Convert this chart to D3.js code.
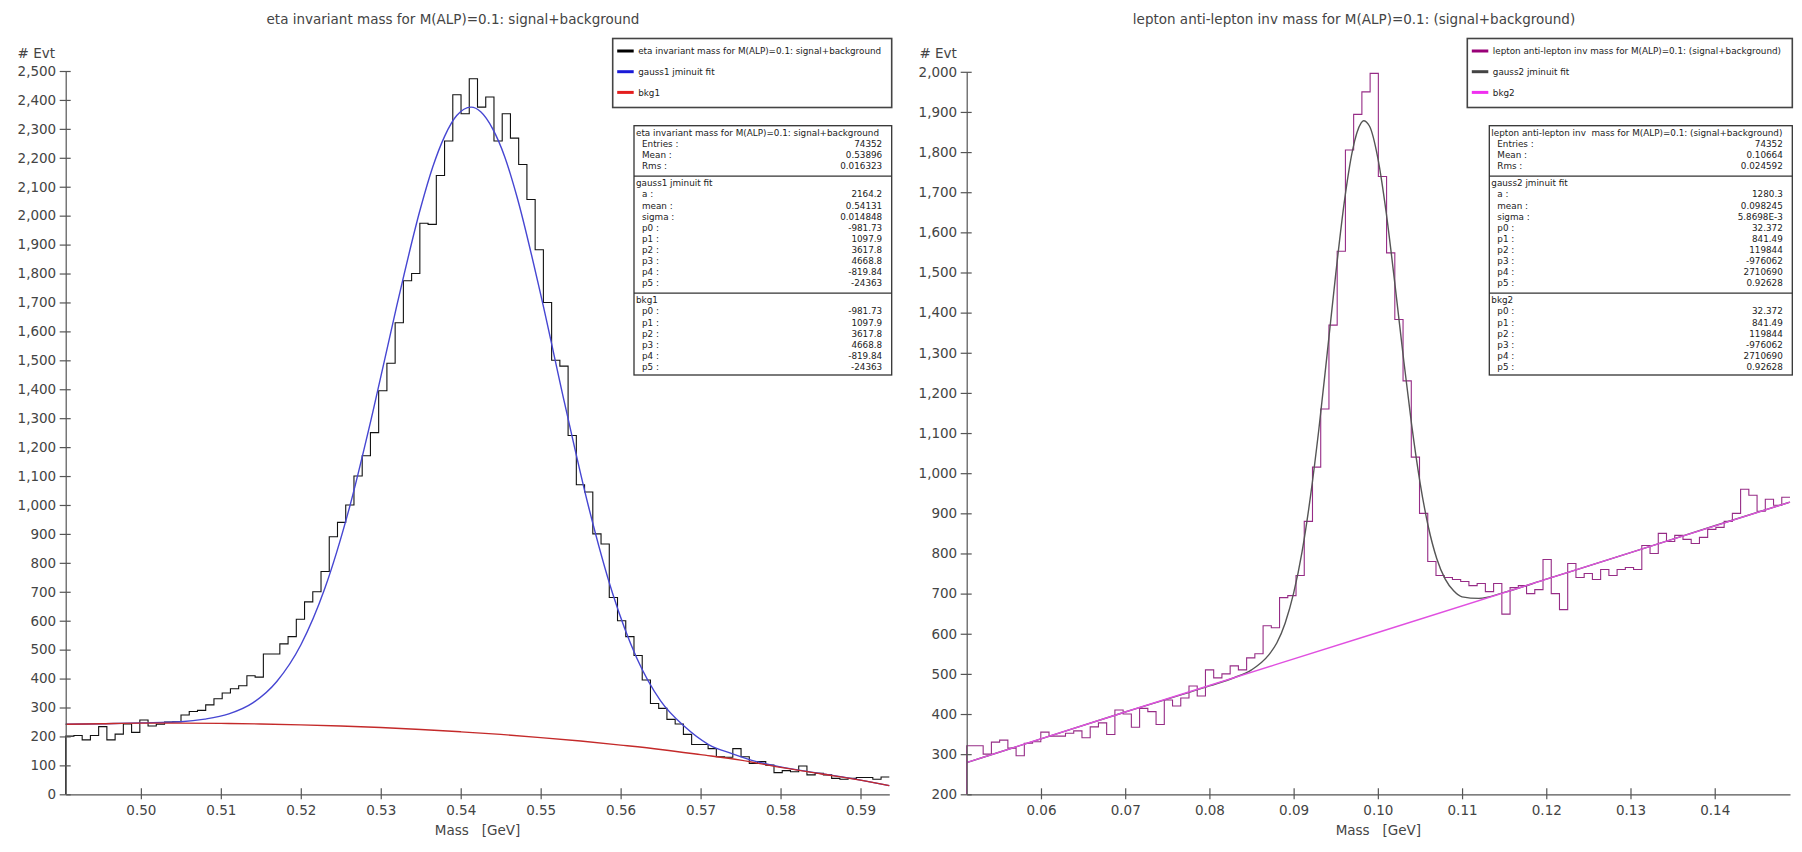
<!DOCTYPE html>
<html>
<head>
<meta charset="utf-8">
<script src="https://cdn.jsdelivr.net/npm/d3@7"></script>
<style>
  body { margin: 0; background: #fff; }
  svg text { font-family: "DejaVu Sans", sans-serif; }
</style>
</head>
<body>
<svg id="chart" width="1802" height="852"></svg>
<script>
// ---- left panel: eta invariant mass (100 bins) ----
var etaRange = [0.4906, 0.5936];
var etaCounts = [201,203,188,203,234,188,208,243,214,257,236,242,250,251,274,286,290,309,
  330,350,365,375,410,405,485,485,520,545,605,665,700,770,890,940,1000,1100,1170,1250,1395,1490,1630,1775,1800,
  1974,1970,2139,2258,2418,2352,2473,2375,2410,2258,2352,2268,2177,2056,1882,
  1700,1500,1480,1240,1070,1045,900,865,680,600,545,480,395,314,
  297,259,243,207,172,172,158,130,128,158,130,107,113,101,75,82,78,98,67,73,67,55,52,55,58,58,52,60];
var etaFitX = [0.4906,0.4955,0.500,0.505,0.508,0.511,0.514,0.517,0.520,0.523,0.526,0.529,0.532,0.535,0.5365,0.538,0.5395,0.5413,0.5425,0.544,0.5455,0.547,0.550,0.553,0.556,0.559,0.562,0.565,0.568,0.571,0.574,0.577,0.580,0.585,0.590,0.5936];
var etaFitY = [242,244,247,251,260,278,316,390,516,711,982,1320,1688,2028,2168,2275,2346,2375,2359,2300,2204,2069,1728,1351,993,694,472,323,234,172,140,113,95,72,49,30];
var etaBkgX = [0.4906,0.495,0.500,0.505,0.510,0.515,0.520,0.525,0.530,0.535,0.540,0.545,0.550,0.555,0.560,0.565,0.570,0.575,0.580,0.585,0.590,0.5936];
var etaBkgY = [242,244,246,246,245,243,240,236,231,224,216,207,196,184,170,155,137,118,93,71,49,30];
var etaXTicks = [0.50,0.51,0.52,0.53,0.54,0.55,0.56,0.57,0.58,0.59];
var etaYTicks = [0,100,200,300,400,500,600,700,800,900,1000,1100,1200,1300,1400,1500,1600,1700,1800,1900,2000,2100,2200,2300,2400,2500];
var etaLegend = ["eta invariant mass for M(ALP)=0.1: signal+background", "gauss1 jminuit fit", "bkg1"];
var etaStats = [
  ["eta invariant mass for M(ALP)=0.1: signal+background", [["Entries :","74352"],["Mean :","0.53896"],["Rms :","0.016323"]]],
  ["gauss1 jminuit fit", [["a :","2164.2"],["mean :","0.54131"],["sigma :","0.014848"],["p0 :","-981.73"],["p1 :","1097.9"],["p2 :","3617.8"],["p3 :","4668.8"],["p4 :","-819.84"],["p5 :","-24363"]]],
  ["bkg1", [["p0 :","-981.73"],["p1 :","1097.9"],["p2 :","3617.8"],["p3 :","4668.8"],["p4 :","-819.84"],["p5 :","-24363"]]]
];

// ---- right panel: lepton anti-lepton inv mass (100 bins) ----
var leptonRange = [0.05118, 0.14894];
var leptonCounts = [321,321,300,330,335,315,296,327,331,355,345,345,352,358,341,368,378,349,410,400,367,414,406,374,435,420,
  440,470,445,510,490,500,520,510,540,550,620,615,690,695,745,880,1015,1160,
  1369,1553,1805,1894,1950,1996,1739,1549,1383,
  1230,1040,900,780,745,740,735,730,720,725,705,725,649,
  715,720,700,710,785,700,660,775,740,750,735,760,745,760,765,760,820,800,850,830,845,835,825,840,860,865,880,900,960,945,905,935,920,940];
var leptonFitX = [0.05118,0.060,0.070,0.080,0.083,0.085,0.087,0.088,0.089,0.090,0.091,0.092,0.093,0.094,0.095,0.096,0.097,0.098,0.0983,0.099,0.100,0.101,0.102,0.103,0.104,0.105,0.106,0.107,0.108,0.109,0.110,0.112,0.115,0.120,0.130,0.140,0.14894];
var leptonFitY = [279,338,405,470,491,510,546,577,627,701,804,942,1110,1301,1496,1673,1805,1872,1878,1865,1785,1648,1476,1294,1123,978,866,787,736,707,692,688,703,736,802,869,928];
var leptonBkgX = [0.05118,0.070,0.100,0.130,0.14894];
var leptonBkgY = [279,405,603,802,928];
var leptonXTicks = [0.06,0.07,0.08,0.09,0.10,0.11,0.12,0.13,0.14];
var leptonYTicks = [200,300,400,500,600,700,800,900,1000,1100,1200,1300,1400,1500,1600,1700,1800,1900,2000];
var leptonLegend = ["lepton anti-lepton inv  mass for M(ALP)=0.1: (signal+background)", "gauss2 jminuit fit", "bkg2"];
var leptonStats = [
  ["lepton anti-lepton inv  mass for M(ALP)=0.1: (signal+background)", [["Entries :","74352"],["Mean :","0.10664"],["Rms :","0.024592"]]],
  ["gauss2 jminuit fit", [["a :","1280.3"],["mean :","0.098245"],["sigma :","5.8698E-3"],["p0 :","32.372"],["p1 :","841.49"],["p2 :","119844"],["p3 :","-976062"],["p4 :","2710690"],["p5 :","0.92628"]]],
  ["bkg2", [["p0 :","32.372"],["p1 :","841.49"],["p2 :","119844"],["p3 :","-976062"],["p4 :","2710690"],["p5 :","0.92628"]]]
];

var svg = d3.select("#chart");
var BASE = 794.3;

function drawPanel(p) {
  var x = d3.scaleLinear().domain(p.range).range([p.left, p.right]);
  var y = d3.scaleLinear().domain([p.yTicks[0], p.yTicks[p.yTicks.length - 1]]).range([BASE, p.top]);
  var g = svg.append("g");

  g.append("text").attr("x", p.titleX).attr("y", 24).attr("text-anchor", "middle")
    .attr("font-size", 13.5).attr("fill", "#444").text(p.title);
  g.append("text").attr("x", p.evtX).attr("y", 58).attr("font-size", 13.5).attr("fill", "#444").text("# Evt");
  g.append("text").attr("x", (p.left + p.right) / 2).attr("y", 834.5).attr("text-anchor", "middle")
    .attr("font-size", 13.5).attr("fill", "#444").style("white-space", "pre").text("Mass   [GeV]");

  // histogram outline
  var n = p.counts.length;
  var w = (p.range[1] - p.range[0]) / n;
  var pts = [[p.range[0], p.yTicks[0]]];
  p.counts.forEach(function(c, i) { pts.push([p.range[0] + i * w, c]); });
  pts.push([p.range[1], p.counts[n - 1]]);
  var step = d3.line().x(function(d) { return x(d[0]); }).y(function(d) { return y(d[1]); }).curve(d3.curveStepAfter);
  g.append("path").attr("d", step(pts)).attr("fill", "none").attr("stroke", p.colors[0]).attr("stroke-width", 1.1);

  var smooth = d3.line().x(function(d) { return x(d[0]); }).y(function(d) { return y(d[1]); }).curve(d3.curveMonotoneX);
  g.append("path").attr("d", smooth(d3.zip(p.fitX, p.fitY))).attr("fill", "none")
    .attr("stroke", p.colors[1]).attr("stroke-width", 1.4);
  g.append("path").attr("d", smooth(d3.zip(p.bkgX, p.bkgY))).attr("fill", "none")
    .attr("stroke", p.colors[2]).attr("stroke-width", 1.4);

  // axes
  var ya = g.append("g").attr("transform", "translate(" + p.left + ",0)")
    .call(d3.axisLeft(y).tickValues(p.yTicks).tickFormat(d3.format(",")).tickSize(6).tickSizeOuter(0).tickPadding(3.5));
  ya.selectAll(".tick line").attr("x1", 5);
  var xa = g.append("g").attr("transform", "translate(0," + BASE + ")")
    .call(d3.axisBottom(x).tickValues(p.xTicks).tickFormat(d3.format(".2f")).tickSize(5).tickSizeOuter(0).tickPadding(6));
  xa.selectAll(".tick line").attr("y1", -6);
  [ya, xa].forEach(function(a) {
    a.select(".domain").attr("stroke", "#555").attr("stroke-width", 1.2);
    a.selectAll(".tick line").attr("stroke", "#555").attr("stroke-width", 1.2);
    a.selectAll(".tick text").attr("font-size", 13.5).attr("fill", "#444").attr("font-family", "DejaVu Sans");
  });

  // legend box
  var lg = g.append("g");
  lg.append("rect").attr("x", p.legend.x).attr("y", 38.5).attr("width", p.legend.w).attr("height", 69)
    .attr("fill", "#fff").attr("stroke", "#444").attr("stroke-width", 1.6);
  p.legendText.forEach(function(t, i) {
    var cy = 51 + i * 20.7;
    lg.append("line").attr("x1", p.legend.x + 4.5).attr("x2", p.legend.x + 21).attr("y1", cy).attr("y2", cy)
      .attr("stroke", p.swatch[i]).attr("stroke-width", 3);
    lg.append("text").attr("x", p.legend.x + 25.5).attr("y", cy + 3.2).attr("font-size", 8.8).attr("fill", "#222").text(t);
  });

  // statistics box
  var sg = g.append("g");
  var sx = p.stats.x, sr = p.stats.x + p.stats.w;
  var top = 125.7;
  sg.append("rect").attr("x", sx).attr("y", top).attr("width", p.stats.w).attr("height", 249.3)
    .attr("fill", "#fff").attr("stroke", "#333").attr("stroke-width", 1.3);
  p.statsRows.forEach(function(sec, k) {
    if (k > 0) sg.append("line").attr("x1", sx).attr("x2", sr).attr("y1", top).attr("y2", top)
      .attr("stroke", "#333").attr("stroke-width", 1.1);
    var cy = top + 7;
    sg.append("text").attr("x", sx + 2).attr("y", cy + 3.2).attr("font-size", 8.8).attr("fill", "#222")
      .style("white-space", "pre").text(sec[0]);
    sec[1].forEach(function(r, j) {
      var ry = cy + 11.1 * (j + 1) + 3.2;
      sg.append("text").attr("x", sx + 8).attr("y", ry).attr("font-size", 8.8).attr("fill", "#222").text(r[0]);
      sg.append("text").attr("x", sr - 9.5).attr("y", ry).attr("text-anchor", "end").attr("font-size", 8.8)
        .attr("fill", "#222").text(r[1]);
    });
    top = top + 11.1 * (sec[1].length + 1) + 6;
  });
}

drawPanel({
  title: "eta invariant mass for M(ALP)=0.1: signal+background", titleX: 453, evtX: 17.6,
  range: etaRange, counts: etaCounts, fitX: etaFitX, fitY: etaFitY, bkgX: etaBkgX, bkgY: etaBkgY,
  xTicks: etaXTicks, yTicks: etaYTicks, left: 65.7, right: 889.3, top: 71,
  colors: ["#111", "#4646d2", "#c42a2a"], swatch: ["#000", "#1a1ad8", "#e41e1e"],
  legendText: etaLegend, statsRows: etaStats,
  legend: { x: 612.7, w: 279 }, stats: { x: 634, w: 257.7 }
});
drawPanel({
  title: "lepton anti-lepton inv mass for M(ALP)=0.1: (signal+background)", titleX: 1354, evtX: 919.4,
  range: leptonRange, counts: leptonCounts, fitX: leptonFitX, fitY: leptonFitY, bkgX: leptonBkgX, bkgY: leptonBkgY,
  xTicks: leptonXTicks, yTicks: leptonYTicks, left: 966.7, right: 1790, top: 71.8,
  colors: ["#962c86", "#555", "#e050e0"], swatch: ["#990077", "#444", "#f030f0"],
  legendText: leptonLegend, statsRows: leptonStats,
  legend: { x: 1467.3, w: 325 }, stats: { x: 1489.3, w: 303 }
});
</script>
</body>
</html>
